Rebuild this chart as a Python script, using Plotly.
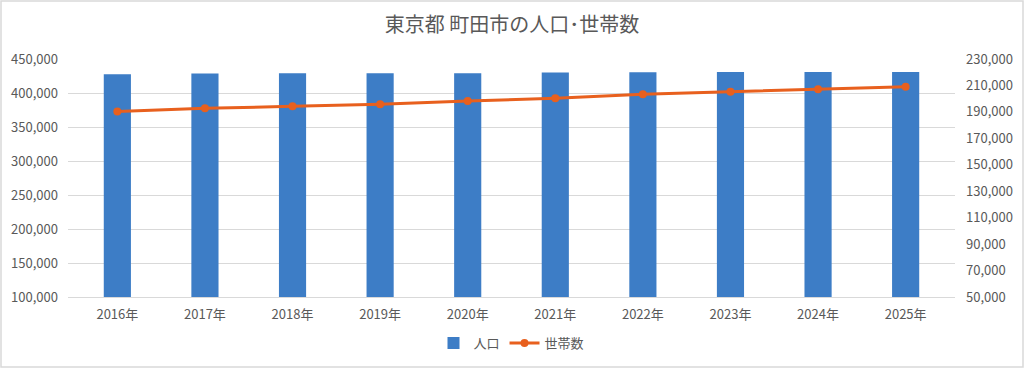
import plotly.graph_objects as go

years = ["2016年", "2017年", "2018年", "2019年", "2020年", "2021年", "2022年", "2023年", "2024年", "2025年"]
population = [427500, 428700, 428900, 429000, 429100, 430300, 430600, 430700, 430700, 430800]
households = [190200, 192700, 194200, 195700, 198200, 200300, 203300, 205300, 207100, 209100]

W, H = 1024, 368
ml, mr, mt, mb = 68, 69, 59, 71
pw, ph = W - ml - mr, H - mt - mb

font_fam = "Noto Sans CJK JP, Noto Sans, sans-serif"
grey = "#595959"

fig = go.Figure()
fig.add_trace(go.Bar(x=years, y=population, name="人口", marker_color="#3D7DC6",
                     marker_line_width=0, yaxis="y"))
fig.add_trace(go.Scatter(x=years, y=households, name="世帯数", mode="lines+markers",
                         line=dict(color="#E8601E", width=3),
                         marker=dict(color="#E8601E", size=8), yaxis="y2"))

fig.update_layout(
    width=W, height=H,
    margin=dict(l=ml, r=mr, t=mt, b=mb, autoexpand=False),
    paper_bgcolor="white", plot_bgcolor="white",
    font=dict(family=font_fam, size=13, color=grey),
    title=dict(text="東京都 町田市の人口･世帯数", x=0.5, xanchor="center", y=1 - 25 / H, yanchor="middle",
               font=dict(size=20, color=grey)),
    bargap=0.69,
    xaxis=dict(showgrid=False, showline=True, linecolor="#d9d9d9", linewidth=1, automargin=False,
               ticks="", ticklabelstandoff=5, tickfont=dict(size=13, color=grey)),
    yaxis=dict(range=[100000, 450000], dtick=50000, tickformat=",", showgrid=True, automargin=False,
               gridcolor="#d9d9d9", gridwidth=1, zeroline=False, ticks="", ticklabelstandoff=9,
               tickfont=dict(size=13, color=grey)),
    yaxis2=dict(range=[50000, 230000], tick0=50000, dtick=20000, tickformat=",", overlaying="y", side="right",
                showgrid=False, zeroline=False, ticks="", automargin=False, ticklabelstandoff=10,
                tickfont=dict(size=13, color=grey)),
    legend=dict(orientation="h", x=0.5, xanchor="center", y=-(343 - (mt + ph)) / ph, yanchor="middle",
                font=dict(size=13, color=grey), bgcolor="rgba(0,0,0,0)"),
    showlegend=True,
)

fig.add_shape(type="rect", xref="paper", yref="paper",
              x0=-(ml - 1) / pw, x1=1 + (mr - 1) / pw,
              y0=-(mb - 1) / ph, y1=1 + (mt - 1) / ph,
              line=dict(color="#d9d9d9", width=1.5), fillcolor="rgba(0,0,0,0)", layer="below")

fig.write_html("out.html", config={"displayModeBar": False},
               post_script="document.body.style.margin='0';document.body.style.overflow='hidden';")
